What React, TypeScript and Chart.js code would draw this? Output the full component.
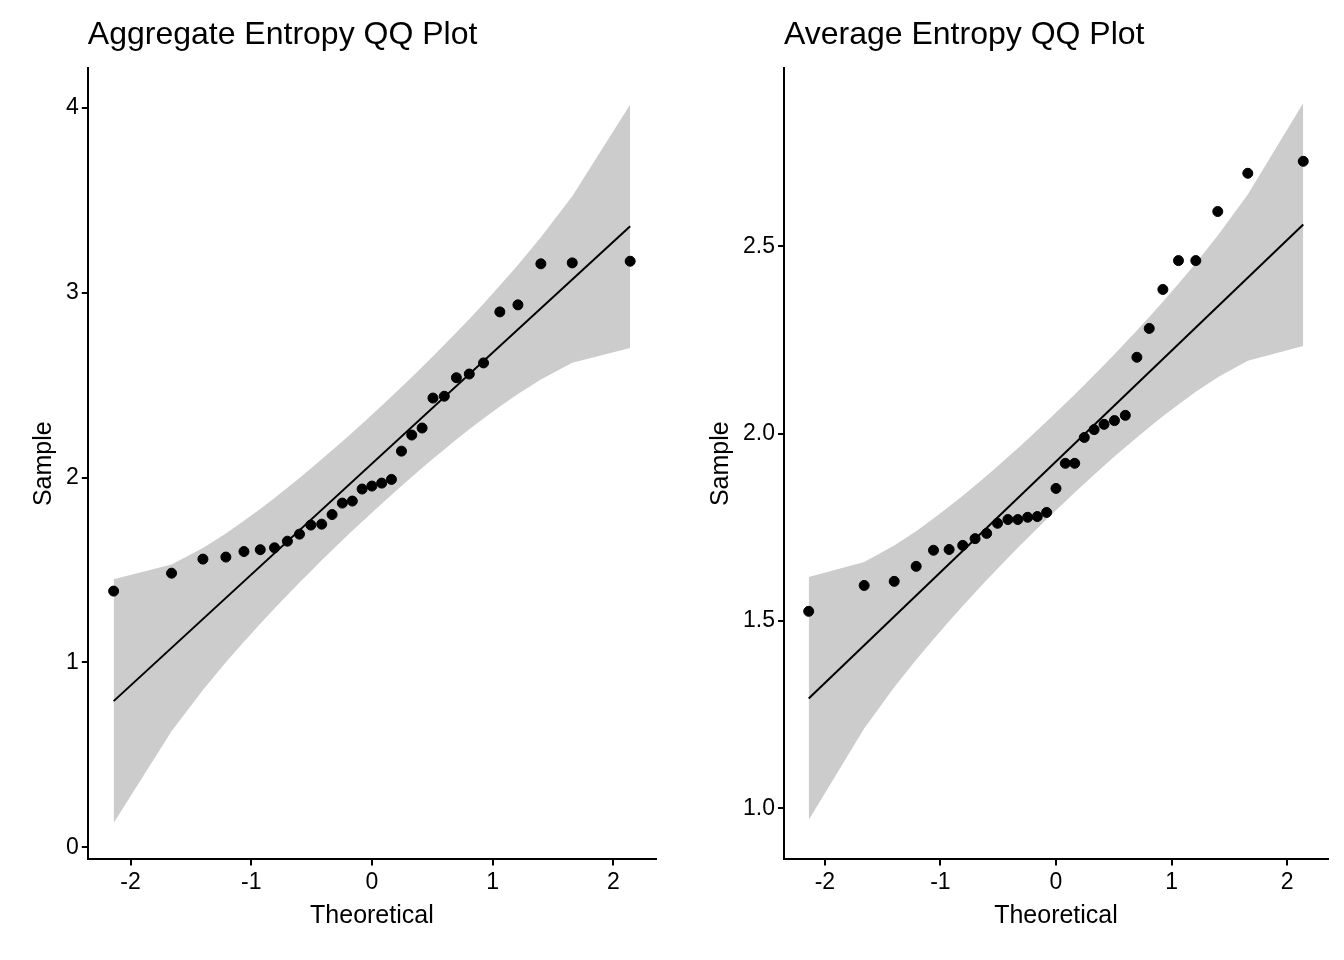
import React, { useEffect, useRef } from "react";
import { Chart, registerables } from "chart.js";
Chart.register(...registerables);

const theoretical = [-2.14, -1.66, -1.40, -1.21, -1.06, -0.925, -0.807, -0.70, -0.60, -0.506, -0.416, -0.33, -0.245, -0.162, -0.081, 0, 0.081, 0.162, 0.245, 0.33, 0.416, 0.506, 0.60, 0.70, 0.807, 0.925, 1.06, 1.21, 1.40, 1.66, 2.14];
const probs = theoretical.map((_, i) => (i + 0.5) / theoretical.length);
const aggregateSample = [1.386, 1.483, 1.559, 1.57, 1.60, 1.61, 1.62, 1.656, 1.694, 1.743, 1.748, 1.80, 1.862, 1.873, 1.938, 1.954, 1.97, 1.99, 2.143, 2.23, 2.268, 2.43, 2.44, 2.54, 2.56, 2.62, 2.896, 2.934, 3.156, 3.161, 3.17];
const averageSample = [1.526, 1.595, 1.606, 1.646, 1.689, 1.691, 1.702, 1.72, 1.734, 1.761, 1.771, 1.771, 1.777, 1.779, 1.79, 1.854, 1.921, 1.921, 1.99, 2.011, 2.025, 2.035, 2.049, 2.204, 2.281, 2.385, 2.462, 2.462, 2.593, 2.695, 2.727];
const aggregateLine = { slope: 0.6, intercept: 2.075 };
const averageLine = { slope: 0.2955, intercept: 1.926 };
const aggregateTicks = [0, 1, 2, 3, 4];
const averageTicks = [1.0, 1.5, 2.0, 2.5];
const xTicks = [-2, -1, 0, 1, 2];

const dnorm = (z: number) => Math.exp(-z * z / 2) / Math.sqrt(2 * Math.PI);
const font = "'Liberation Sans', Arial, sans-serif";

function QQ({ title, sample, line, yTicks, yMin, yMax, dec, padLeft }: any) {
  const ref = useRef<HTMLCanvasElement>(null);
  useEffect(() => {
    const n = theoretical.length;
    const center = theoretical.map((z) => line.intercept + line.slope * z);
    const se = theoretical.map((z, i) => 1.96 * line.slope * Math.sqrt(probs[i] * (1 - probs[i]) / n) / dnorm(z));
    const upper = theoretical.map((z, i) => ({ x: z, y: center[i] + se[i] }));
    const lower = theoretical.map((z, i) => ({ x: z, y: center[i] - se[i] }));
    const titlePlugin = {
      id: "leftTitle",
      afterDraw(c: any) {
        const ctx = c.ctx;
        ctx.save();
        ctx.fillStyle = "#000";
        ctx.font = `32px ${font}`;
        ctx.textBaseline = "alphabetic";
        ctx.fillText(title, c.chartArea.left, 44);
        ctx.restore();
      },
    };
    const chart = new Chart(ref.current!, {
      type: "scatter",
      data: {
        datasets: [
          { type: "line", order: 3, data: upper, borderWidth: 0, pointRadius: 0, backgroundColor: "#cccccc", fill: false } as any,
          { type: "line", order: 2, data: lower, borderWidth: 0, pointRadius: 0, backgroundColor: "#cccccc", fill: "-1" } as any,
          { type: "line", order: 1, data: [theoretical[0], theoretical[n - 1]].map((z) => ({ x: z, y: line.intercept + line.slope * z })), borderColor: "#000", borderWidth: 2, pointRadius: 0, fill: false } as any,
          { order: 0, data: theoretical.map((z, i) => ({ x: z, y: sample[i] })), backgroundColor: "#000", borderColor: "#000", pointRadius: 5 },
        ],
      },
      options: {
        animation: false,
        responsive: false,
        layout: { padding: { right: 16, top: 68, left: padLeft, bottom: 25 } },
        plugins: {
          legend: { display: false },
          tooltip: { enabled: false },
        },
        scales: {
          x: {
            type: "linear", min: -2.354, max: 2.354,
            afterBuildTicks: (s: any) => { s.ticks = xTicks.map((v) => ({ value: v })); },
            ticks: { color: "#000", font: { family: font, size: 23 }, callback: (v: any) => String(v) },
            grid: { drawOnChartArea: false, color: "#000", tickLength: 6, lineWidth: 2 },
            border: { color: "#000", width: 2 },
            title: { display: true, text: "Theoretical", color: "#000", font: { family: font, size: 25 }, padding: { top: 2 } },
          },
          y: {
            type: "linear", min: yMin, max: yMax,
            afterBuildTicks: (s: any) => { s.ticks = yTicks.map((v: number) => ({ value: v })); },
            ticks: { color: "#000", font: { family: font, size: 23 }, callback: (v: any) => Number(v).toFixed(dec) },
            grid: { drawOnChartArea: false, color: "#000", tickLength: 6, lineWidth: 2 },
            border: { color: "#000", width: 2 },
            title: { display: true, text: "Sample", color: "#000", font: { family: font, size: 25 }, padding: { bottom: 4 } },
          },
        },
      },
      plugins: [titlePlugin],
    });
    return () => chart.destroy();
  }, []);
  return <canvas ref={ref} width={672} height={960} style={{ display: "block" }} />;
}

export default function App() {
  useEffect(() => { document.body.style.margin = "0"; }, []);
  return (
    <div style={{ display: "flex", width: 1344, height: 960, background: "#fff" }}>
      <QQ title="Aggregate Entropy QQ Plot" sample={aggregateSample} line={aggregateLine} yTicks={aggregateTicks} yMin={-0.065} yMax={4.215} dec={0} padLeft={25} />
      <QQ title="Average Entropy QQ Plot" sample={averageSample} line={averageLine} yTicks={averageTicks} yMin={0.864} yMax={2.976} dec={1} padLeft={30} />
    </div>
  );
}
